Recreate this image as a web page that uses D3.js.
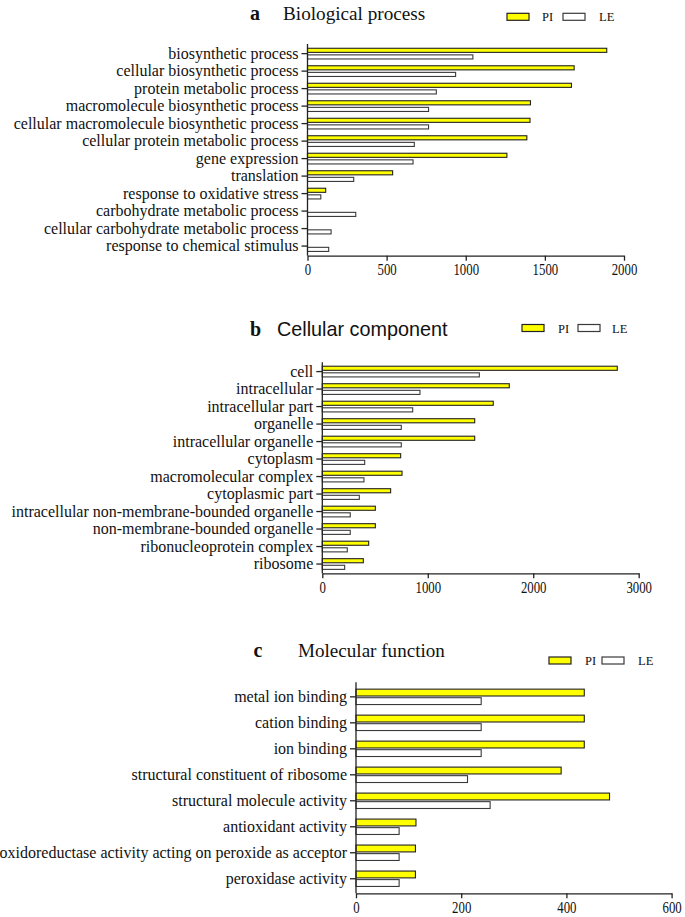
<!DOCTYPE html>
<html><head><meta charset="utf-8">
<script src="https://cdn.jsdelivr.net/npm/d3@7"></script>
<style>
html,body{margin:0;padding:0;background:#fff;}
svg{display:block;}
</style></head>
<body>
<svg id="chart" width="685" height="917"></svg>
<script>
// ---------- data ----------
const series = ["PI", "LE"];

const bpCategories = ["biosynthetic process","cellular biosynthetic process","protein metabolic process",
  "macromolecule biosynthetic process","cellular macromolecule biosynthetic process","cellular protein metabolic process",
  "gene expression","translation","response to oxidative stress","carbohydrate metabolic process",
  "cellular carbohydrate metabolic process","response to chemical stimulus"];
const bpPI = [1891,1685,1668,1409,1406,1386,1260,538,115,0,0,0];
const bpLE = [1045,936,814,765,765,675,667,292,84,305,149,134];
const bpTicks = [0,500,1000,1500,2000];

const ccCategories = ["cell","intracellular","intracellular part","organelle","intracellular organelle","cytoplasm",
  "macromolecular complex","cytoplasmic part","intracellular non-membrane-bounded organelle",
  "non-membrane-bounded organelle","ribonucleoprotein complex","ribosome"];
const ccPI = [2797,1773,1621,1445,1445,743,756,648,503,503,440,389];
const ccLE = [1489,926,857,749,749,402,395,351,265,265,237,212];
const ccTicks = [0,1000,2000,3000];

const mfCategories = ["metal ion binding","cation binding","ion binding","structural constituent of ribosome",
  "structural molecule activity","antioxidant activity","oxidoreductase activity acting on peroxide as acceptor",
  "peroxidase activity"];
const mfPI = [434,434,434,390,482,114,113,113];
const mfLE = [238,238,238,212,255,82,82,82];
const mfTicks = [0,200,400,600];

// ---------- drawing ----------
const svg = d3.select("#chart");
const SERIF = "'Liberation Serif','Times New Roman',serif";
const SANS = "'Liberation Sans',Arial,sans-serif";
const fills = {PI: "#ffff00", LE: "#ffffff"};
const strokes = {PI: "#222", LE: "#3a3a3a"};

function drawPanel(cfg) {
  const g = svg.append("g");
  const x = d3.scaleLinear().domain([0, cfg.max]).range([cfg.x0, cfg.x1]);
  const y = d3.scaleBand().domain(cfg.cats).range([cfg.top, cfg.bottom]).paddingInner(0).paddingOuter(cfg.po);
  const inner = d3.scaleBand().domain(series).range([-cfg.group/2, cfg.group/2]).paddingInner(cfg.gap);

  const rows = cfg.cats.map((c, i) => ({cat: c, PI: cfg.pi[i], LE: cfg.le[i]}));
  const bars = [];
  rows.forEach(r => series.forEach(s => { if (r[s] > 0) bars.push({cat: r.cat, s, v: r[s]}); }));

  g.selectAll("rect.bar").data(bars).join("rect")
    .attr("class","bar")
    .attr("x", x(0))
    .attr("y", d => y(d.cat) + y.bandwidth()/2 + inner(d.s))
    .attr("width", d => x(d.v) - x(0))
    .attr("height", inner.bandwidth())
    .attr("fill", d => fills[d.s])
    .attr("stroke", d => strokes[d.s])
    .attr("stroke-width", 1.1);

  // y axis
  const ya = g.append("g").attr("transform", `translate(${x(0)},0)`)
    .call(d3.axisLeft(y).tickSize(6).tickSizeOuter(0).tickPadding(3));
  ya.select(".domain").attr("d", `M0,${cfg.top}V${cfg.bottom}`).attr("stroke","#222").attr("stroke-width",1.3);
  ya.selectAll(".tick line").attr("stroke","#222").attr("stroke-width",1.3);
  ya.selectAll(".tick text").attr("font-family", SERIF).attr("font-size", 16).attr("fill","#111");

  // x axis
  const xa = g.append("g").attr("transform", `translate(0,${cfg.bottom})`)
    .call(d3.axisBottom(x).tickValues(cfg.ticks).tickFormat(d3.format("d")).tickSize(5).tickSizeOuter(0).tickPadding(3));
  xa.select(".domain").attr("stroke","#222").attr("stroke-width",1.3);
  xa.selectAll(".tick line").attr("stroke","#222").attr("stroke-width",1.3);
  xa.selectAll(".tick text").attr("font-family", SERIF).attr("font-size", 16).attr("fill","#111")
    .attr("transform","scale(0.8,1)");

  // title
  g.append("text").attr("x", cfg.letterX).attr("y", cfg.titleY)
    .attr("font-family", SERIF).attr("font-weight","bold").attr("font-size", 20).attr("fill","#111")
    .text(cfg.letter);
  g.append("text").attr("x", cfg.titleX).attr("y", cfg.titleY)
    .attr("font-family", cfg.titleFont).attr("font-size", cfg.titleSize).attr("fill","#111")
    .text(cfg.title);

  // legend
  const lg = g.append("g");
  series.forEach((s, i) => {
    const bx = cfg.legX[i];
    lg.append("rect").attr("x", bx).attr("y", cfg.legY).attr("width", 22).attr("height", 7)
      .attr("fill", fills[s]).attr("stroke", strokes[s]).attr("stroke-width", 1.2);
    lg.append("text").attr("x", cfg.legTX[i]).attr("y", cfg.legY + 8)
      .attr("font-family", SERIF).attr("font-size", 12.5).attr("fill","#111").text(s);
  });
}

drawPanel({cats: bpCategories, pi: bpPI, le: bpLE, ticks: bpTicks, max: 2000,
  x0: 307.5, x1: 624, top: 44, bottom: 255.7, po: 0.05, group: 10.7, gap: 0.38,
  letter: "a", letterX: 250, title: "Biological process", titleX: 283, titleY: 20,
  titleFont: SERIF, titleSize: 19.2,
  legX: [507, 563], legTX: [542, 599], legY: 13.3});

drawPanel({cats: ccCategories, pi: ccPI, le: ccLE, ticks: ccTicks, max: 3000,
  x0: 322.3, x1: 638.7, top: 362.3, bottom: 573.3, po: 0.03, group: 10.7, gap: 0.38,
  letter: "b", letterX: 250, title: "Cellular component", titleX: 277, titleY: 336,
  titleFont: SANS, titleSize: 19.8,
  legX: [522, 578], legTX: [558, 612], legY: 324.5});

drawPanel({cats: mfCategories, pi: mfPI, le: mfLE, ticks: mfTicks, max: 600,
  x0: 356, x1: 671.6, top: 682.3, bottom: 893.3, po: 0.06, group: 15.4, gap: 0.2,
  letter: "c", letterX: 253.5, title: "Molecular function", titleX: 298, titleY: 657,
  titleFont: SERIF, titleSize: 19.1,
  legX: [549, 602], legTX: [585, 638], legY: 657});
</script>
</body></html>
